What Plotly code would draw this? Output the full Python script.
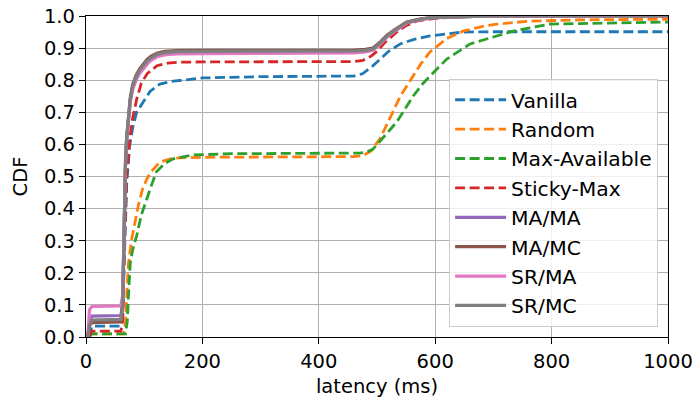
import plotly.graph_objects as go

# ---- data (latency in ms, CDF) ----
vanilla_x = [5, 10, 60, 63, 66, 70, 75, 80, 87, 98, 110, 127, 150, 201, 300, 460, 475, 490, 505, 520, 540, 565, 591, 620, 648, 700, 1000]
vanilla_y = [0, 0.034, 0.034, 0.06, 0.25, 0.48, 0.595, 0.65, 0.70, 0.73, 0.765, 0.788, 0.797, 0.807, 0.811, 0.813, 0.82, 0.84, 0.866, 0.89, 0.913, 0.928, 0.938, 0.945, 0.95, 0.951, 0.951]

random_x = [5, 10, 65, 68, 70, 73, 78, 84, 90, 97, 104, 112, 127, 145, 161, 200, 300, 460, 476, 490, 505, 517, 527, 540, 557, 575, 591, 620, 648, 680, 706, 763, 850, 1000]
random_y = [0, 0.01, 0.01, 0.05, 0.13, 0.23, 0.30, 0.36, 0.41, 0.46, 0.49, 0.515, 0.545, 0.555, 0.558, 0.56, 0.561, 0.562, 0.565, 0.58, 0.617, 0.66, 0.70, 0.75, 0.80, 0.85, 0.888, 0.93, 0.953, 0.967, 0.975, 0.984, 0.988, 0.99]

maxavail_x = [5, 10, 68, 71, 73, 76, 80, 87, 95, 104, 112, 121, 135, 150, 184, 250, 400, 470, 482, 493, 510, 534, 562, 579, 603, 620, 660, 700, 734, 797, 900, 1000]
maxavail_y = [0, 0.01, 0.01, 0.05, 0.13, 0.23, 0.27, 0.315, 0.38, 0.43, 0.47, 0.515, 0.54, 0.555, 0.567, 0.571, 0.572, 0.573, 0.576, 0.585, 0.62, 0.67, 0.75, 0.79, 0.835, 0.866, 0.913, 0.935, 0.953, 0.975, 0.979, 0.981]

sticky_x = [5, 10, 60, 63, 66, 70, 75, 80, 87, 95, 105, 122, 140, 161, 200, 300, 460, 476, 490, 500, 515, 534, 550, 570, 600, 650, 700, 1000]
sticky_y = [0, 0.018, 0.018, 0.05, 0.3, 0.5, 0.617, 0.68, 0.74, 0.79, 0.82, 0.845, 0.853, 0.856, 0.857, 0.858, 0.858, 0.862, 0.875, 0.89, 0.92, 0.95, 0.97, 0.985, 0.993, 0.998, 1.0, 1.0]

solid_x = [3, 6, 10, 60, 63, 66, 68, 70, 73, 76, 80, 86, 92, 98, 105, 112, 122, 135, 156, 200, 300, 460, 480, 493, 505, 517, 530, 551, 575, 596, 650, 700, 1000]
mama_y = [0, 0.05, 0.065, 0.067, 0.11, 0.4, 0.55, 0.62, 0.69, 0.735, 0.775, 0.805, 0.825, 0.84, 0.855, 0.865, 0.875, 0.881, 0.884, 0.885, 0.886, 0.887, 0.89, 0.895, 0.913, 0.935, 0.953, 0.978, 0.989, 0.995, 0.998, 1.0, 1.0]
mamc_y = [0, 0.035, 0.045, 0.047, 0.1, 0.41, 0.56, 0.625, 0.695, 0.745, 0.785, 0.815, 0.835, 0.85, 0.865, 0.875, 0.884, 0.89, 0.892, 0.893, 0.893, 0.894, 0.896, 0.9, 0.918, 0.94, 0.957, 0.981, 0.991, 0.996, 0.998, 1.0, 1.0]
srma_y = [0, 0.085, 0.095, 0.097, 0.13, 0.4, 0.55, 0.615, 0.685, 0.73, 0.77, 0.8, 0.82, 0.835, 0.85, 0.862, 0.873, 0.879, 0.882, 0.883, 0.884, 0.885, 0.888, 0.893, 0.912, 0.934, 0.952, 0.978, 0.989, 0.995, 0.998, 1.0, 1.0]
srmc_y = [0, 0.04, 0.053, 0.055, 0.1, 0.4, 0.55, 0.62, 0.69, 0.74, 0.78, 0.81, 0.83, 0.845, 0.86, 0.87, 0.88, 0.886, 0.889, 0.89, 0.89, 0.891, 0.893, 0.897, 0.915, 0.937, 0.955, 0.98, 0.99, 0.995, 0.998, 1.0, 1.0]

x_ticks = [0, 200, 400, 600, 800, 1000]
y_ticks = [0.0, 0.1, 0.2, 0.3, 0.4, 0.5, 0.6, 0.7, 0.8, 0.9, 1.0]

series = [
    ("Vanilla", vanilla_x, vanilla_y, "#1f77b4", "dash"),
    ("Random", random_x, random_y, "#ff7f0e", "dash"),
    ("Max-Available", maxavail_x, maxavail_y, "#2ca02c", "dash"),
    ("Sticky-Max", sticky_x, sticky_y, "#d62728", "dash"),
    ("MA/MA", solid_x, mama_y, "#9467bd", "solid"),
    ("MA/MC", solid_x, mamc_y, "#8c564b", "solid"),
    ("SR/MA", solid_x, srma_y, "#e377c2", "solid"),
    ("SR/MC", solid_x, srmc_y, "#7f7f7f", "solid"),
]

FONT = "DejaVu Sans"
FS = 19.5
fig = go.Figure()
for name, xs, ys, col, style in series:
    fig.add_trace(go.Scatter(
        x=xs, y=ys, mode="lines", name=name, legendgroup=name,
        line=dict(color=col, width=2.8 if style == "dash" else 3.2,
                  dash="10px,4.5px" if style == "dash" else "solid"),
    ))

axis_common = dict(
    showline=True, linecolor="black", linewidth=1.3, mirror=True,
    showgrid=True, gridcolor="#b0b0b0", gridwidth=1.1,
    ticks="outside", ticklen=6, tickwidth=1.2, tickcolor="black",
    zeroline=False, automargin=False,
    tickfont=dict(family=FONT, size=FS, color="black"),
)

fig.update_layout(
    width=696, height=402,
    margin=dict(l=86, r=28, t=16, b=65),
    paper_bgcolor="white", plot_bgcolor="white",
    font=dict(family=FONT, size=FS, color="black"),
    showlegend=True,
    legend=dict(
        x=0.983, y=0.031, xanchor="right", yanchor="bottom",
        bgcolor="rgba(255,255,255,0.8)", bordercolor="#cccccc", borderwidth=1,
        font=dict(family=FONT, size=20.3, color="black"),
        tracegroupgap=0, itemwidth=51,
    ),
    xaxis=dict(range=[0, 1000], tickvals=x_ticks, ticktext=[str(v) for v in x_ticks],
               title=dict(text="latency (ms)", font=dict(family=FONT, size=FS), standoff=7),
               **axis_common),
    yaxis=dict(range=[0, 1], tickvals=y_ticks, ticktext=[f"{v:.1f}" for v in y_ticks],
               title=dict(text="CDF", font=dict(family=FONT, size=FS), standoff=11),
               **axis_common),
)

fig.write_html("out.html", config={"displayModeBar": False},
               post_script="document.body.style.margin='0';document.body.style.overflow='hidden';")
